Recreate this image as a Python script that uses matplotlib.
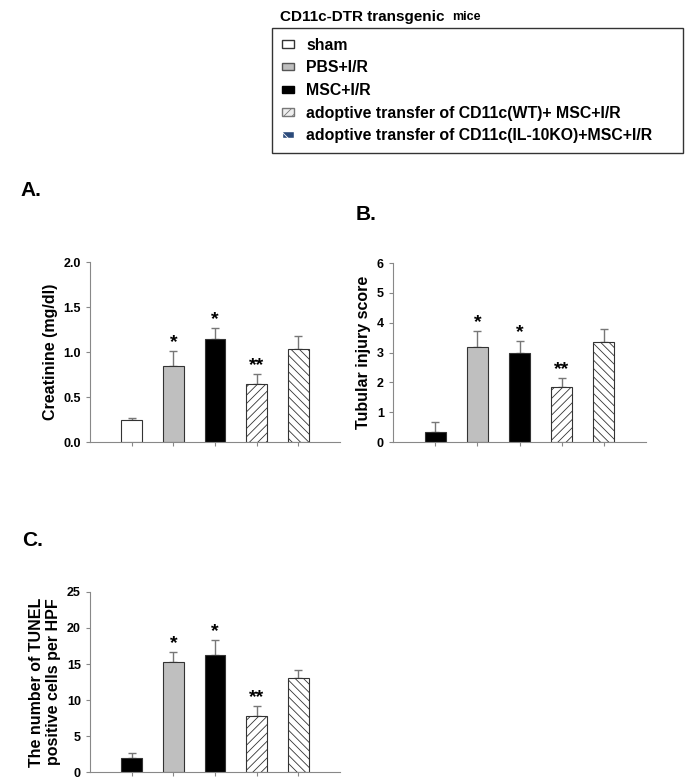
import matplotlib
matplotlib.use("Agg")
import matplotlib.pyplot as plt
from matplotlib.patches import Patch
import numpy as np

plt.rcParams['font.family'] = ['Liberation Sans', 'DejaVu Sans']
plt.rcParams['font.weight'] = 'bold'
plt.rcParams['hatch.linewidth'] = 0.6

groups = ['sham', 'PBS+I/R', 'MSC+I/R',
          'adoptive transfer of CD11c(WT)+ MSC+I/R',
          'adoptive transfer of CD11c(IL-10KO)+MSC+I/R']

creat_mean = [0.24, 0.84, 1.15, 0.65, 1.03]
creat_err = [0.03, 0.17, 0.12, 0.11, 0.15]
creat_stars = ['', '*', '*', '**', '']

injury_mean = [0.33, 3.18, 3.0, 1.85, 3.35]
injury_err = [0.33, 0.55, 0.38, 0.30, 0.43]
injury_stars = ['', '*', '*', '**', '']

tunel_mean = [2.0, 15.3, 16.3, 7.8, 13.05]
tunel_err = [0.6, 1.4, 2.0, 1.35, 1.15]
tunel_stars = ['', '*', '*', '**', '']

fill_a = ['white', '#bfbfbf', 'black', 'white', 'white']
fill_bc = ['black', '#bfbfbf', 'black', 'white', 'white']
hatches = ['', '', '', '////', '\\\\\\\\']

fig = plt.figure(figsize=(6.9, 7.84), dpi=100)

def panel(rect, means, errs, stars, fills, ymax, yticks, fmt, ylabel):
    ax = fig.add_axes(rect)
    x = np.arange(1, len(means) + 1)
    ax.bar(x, means, width=0.5, color=fills, edgecolor='#333333',
           hatch=hatches, linewidth=0.8, zorder=2)
    ax.errorbar(x, means, yerr=[np.zeros(len(errs)), errs], fmt='none',
                ecolor='#777777', elinewidth=1, capsize=3, capthick=1, zorder=1)
    for xi, m, e, s in zip(x, means, errs, stars):
        if s:
            ax.annotate(s, (xi, m + e), xytext=(0, 0), textcoords='offset points',
                        ha='center', va='bottom', fontsize=14, fontweight='bold')
    ax.set_xlim(0, 6)
    ax.set_ylim(0, ymax)
    ax.set_xticks(x)
    ax.set_xticklabels([])
    ax.set_yticks(yticks)
    ax.set_yticklabels([fmt.format(t) for t in yticks], fontsize=9, fontweight='bold')
    ax.set_ylabel(ylabel, fontsize=11.5, fontweight='bold')
    for s in ['top', 'right']:
        ax.spines[s].set_visible(False)
    for s in ['left', 'bottom']:
        ax.spines[s].set_color('#888888')
    ax.tick_params(color='#888888', length=3, direction='out')
    return ax

panel([0.1304, 0.4362, 0.3623, 0.2296], creat_mean, creat_err, creat_stars, fill_a,
      2.0, [0, 0.5, 1.0, 1.5, 2.0], '{:.1f}', 'Creatinine (mg/dl)')
panel([0.5696, 0.4362, 0.3667, 0.2283], injury_mean, injury_err, injury_stars, fill_bc,
      6, [0, 1, 2, 3, 4, 5, 6], '{:d}', 'Tubular injury score')
panel([0.1304, 0.0153, 0.3623, 0.2296], tunel_mean, tunel_err, tunel_stars, fill_bc,
      25, [0, 5, 10, 15, 20, 25], '{:d}', 'The number of TUNEL\npositive cells per HPF')

fig.text(0.029, 1 - 190 / 784, 'A.', fontsize=15, fontweight='bold', va='center')
fig.text(0.515, 1 - 215 / 784, 'B.', fontsize=15, fontweight='bold', va='center')
fig.text(0.032, 1 - 541 / 784, 'C.', fontsize=15, fontweight='bold', va='center')

fig.text(280 / 690, 1 - 17 / 784, 'CD11c-DTR transgenic', fontsize=11, fontweight='bold', va='center')
fig.text(452 / 690, 1 - 17.5 / 784, 'mice', fontsize=9, fontweight='bold', va='center')

handles = [
    Patch(facecolor='white', edgecolor='#333333', label=groups[0]),
    Patch(facecolor='#bfbfbf', edgecolor='#555555', label=groups[1]),
    Patch(facecolor='black', edgecolor='black', label=groups[2]),
    Patch(facecolor='#eeeeee', edgecolor='#777777', hatch='////', label=groups[3]),
    Patch(facecolor='#2b4a7a', edgecolor='white', hatch='\\\\', label=groups[4]),
]
leg = fig.legend(handles=handles, loc='upper left',
                 bbox_to_anchor=(272 / 690, 1 - 152 / 784, 411 / 690, 124 / 784),
                 mode='expand', frameon=True, fancybox=False, fontsize=11.4,
                 handlelength=0.75, handleheight=0.35, handletextpad=0.8,
                 labelspacing=0.48, borderpad=0.62, borderaxespad=0)
leg.get_frame().set_edgecolor('black')
leg.get_frame().set_linewidth(1)
for t in leg.get_texts():
    t.set_fontweight('bold')

fig.savefig('out.png', dpi=100)
